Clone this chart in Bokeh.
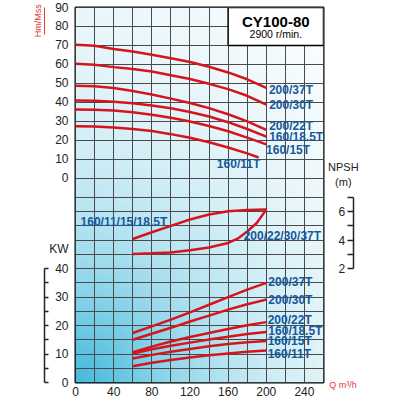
import numpy as np
from bokeh.plotting import figure
from bokeh.models import Range1d, LinearAxis, FixedTicker, Grid, Label, AllLabels, Arrow
from bokeh.core.properties import value
from bokeh.embed import file_html
from bokeh.resources import INLINE

# ---------------- data ----------------
# Head (H, m) vs flow Q (m3/h)
Q_H = [0, 20, 40, 60, 80, 100, 120, 140, 160, 180, 200]
H_200_37 = [70.4, 69.8, 68.2, 66.8, 65.1, 63.3, 61.3, 58.8, 55.8, 52.2, 47.7]
H_200_30 = [60.4, 59.9, 58.6, 57.6, 56.3, 54.3, 52.3, 49.8, 47.0, 43.5, 38.8]
H_200_22 = [48.8, 48.5, 47.6, 46.0, 44.2, 42.0, 39.7, 37.0, 33.8, 30.0, 25.6]
H_160_185 = [41.0, 40.9, 40.4, 39.6, 38.4, 36.9, 35.0, 32.6, 29.6, 26.0, 22.0]
H_160_15 = [36.3, 36.1, 35.7, 34.8, 33.5, 31.9, 30.0, 27.6, 24.8, 21.5, 17.9]
Q_H_11 = [0, 20, 40, 60, 80, 100, 120, 140, 160, 180, 192]
H_160_11 = [27.4, 27.3, 26.8, 26.0, 24.9, 23.3, 21.4, 19.0, 16.3, 13.2, 11.0]

# Power (KW) vs flow
Q_P = [60, 80, 100, 120, 140, 160, 180, 200]
P_200_37 = [17.4, 19.7, 22.1, 24.6, 27.3, 30.0, 32.6, 35.0]
P_200_30 = [15.0, 17.1, 19.2, 21.4, 23.5, 25.6, 27.5, 29.1]
P_200_22 = [10.6, 12.6, 14.4, 16.0, 17.4, 18.8, 20.1, 21.2]
P_160_185 = [10.2, 11.7, 12.9, 14.0, 15.1, 16.1, 17.0, 17.7]
P_160_15 = [8.4, 9.7, 10.8, 11.8, 12.7, 13.5, 14.1, 14.6]
P_160_11 = [5.7, 6.9, 7.9, 8.8, 9.6, 10.2, 10.8, 11.2]

# NPSH (m) vs flow
Q_N1 = [60, 80, 100, 120, 140, 160, 180, 200]
N_160 = [4.08, 4.55, 5.0, 5.45, 5.8, 6.02, 6.12, 6.14]
Q_N2 = [60, 80, 100, 120, 140, 160, 170, 180, 190, 200]
N_200 = [3.03, 3.07, 3.13, 3.28, 3.48, 3.8, 4.1, 4.6, 5.2, 6.14]

# curve labels
H_LABELS = ["200/37T", "200/30T", "200/22T", "160/18.5T", "160/15T", "160/11T"]
H_LABEL_X = [202.8, 203, 203, 203, 199.8, 148.2]
H_LABEL_Y = [46.7, 38.8, 27.4, 21.7, 14.7, 7.7]
P_LABELS = ["200/37T", "200/30T", "200/22T", "160/18.5T", "160/15T", "160/11T"]
P_LABEL_X = [202.2, 202.2, 201.5, 202.2, 201.5, 201.5]
P_LABEL_Y = [35.4, 29.0, 22.1, 18.2, 14.5, 10.0]
N_LABELS = ["160/11/15/18.5T", "200/22/30/37T"]
N_LABEL_X = [5.3, 176.3]
N_LABEL_Y = [5.25, 4.32]

# ticks
X_TICKS = [0, 40, 80, 120, 160, 200, 240]
X_GRID = list(range(20, 260, 20))
H_TICKS = [0, 10, 20, 30, 40, 50, 60, 70, 80, 90]
H_GRID = [-10, 0, 10, 20, 30, 40, 50, 60, 70, 80]
KW_TICKS = [0, 10, 20, 30, 40]
KW_ALL_TICKS = [0, 5, 10, 15, 20, 25, 30, 35, 40]
KW_GRID = [5, 10, 15, 20, 25, 30, 35, 40, 45, 50, 55, 60]
KW_TITLE_AT = 47             # KW level of the "KW" caption
NPSH_TICKS = [2, 4, 6]
NPSH_MINOR = [3, 5, 7]
H_TITLE_SPAN = (76, 90)      # head span of the "Hm/Mss" caption

# ---------------- scales ----------------
X_MAX = 260
H_TOP, H_BOTTOM = 90, -107.5
KW_PER_H = 1 / 1.5           # 5 KW per 7.5 m
KW_TOP = (H_TOP - H_BOTTOM) * KW_PER_H
NPSH_PER_KW = 1 / 5
NPSH_BOTTOM = -6
NPSH_TOP = NPSH_BOTTOM + KW_TOP * NPSH_PER_KW


def kw_to_h(k):
    return H_BOTTOM + k / KW_PER_H


FONT = "Liberation Sans"
RED = "#d7141d"
RED_TXT = "#e2393c"
BLUE = "#17589a"
INK = "#222222"
GRID_C = "#4a4a4a"

p = figure(width=400, height=400, x_range=Range1d(0, X_MAX),
           y_range=Range1d(H_BOTTOM, H_TOP), output_backend="svg",
           toolbar_location=None, y_axis_location=None,
           min_border_left=75, min_border_right=77, min_border_top=7,
           min_border_bottom=18, background_fill_color="white",
           border_fill_color="white")
p.extra_y_ranges = {"kw": Range1d(0, KW_TOP), "npsh": Range1d(NPSH_BOTTOM, NPSH_TOP)}
p.outline_line_color = "black"
p.outline_line_width = 2
p.ygrid.visible = False

# background gradient
nx, ny = 250, 375
U, V = np.meshgrid(np.linspace(0, 1, nx), np.linspace(0, 1, ny))
d = np.hypot(U * 248, V * 375)
w = 0.82 * np.exp(-(d / 160.0) ** 1.25) + 0.06 * (1 - U)
cyan = np.array([45, 178, 216])
img = np.empty((ny, nx), dtype=np.uint32)
view = img.view(dtype=np.uint8).reshape((ny, nx, 4))
for i in range(3):
    view[:, :, i] = np.clip(255 - (255 - cyan[i]) * w, 0, 255).astype(np.uint8)
view[:, :, 3] = 255
p.image_rgba(image=[img], x=0, y=H_BOTTOM, dw=X_MAX, dh=H_TOP - H_BOTTOM, level="image")

# grids
p.xgrid.ticker = FixedTicker(ticks=X_GRID)
p.xgrid.grid_line_color = GRID_C
p.xgrid.grid_line_width = 1
g1 = Grid(dimension=1, ticker=FixedTicker(ticks=H_GRID), grid_line_color=GRID_C, grid_line_width=1)
g2 = Grid(dimension=1, y_range_name="kw", ticker=FixedTicker(ticks=KW_GRID), grid_line_color=GRID_C, grid_line_width=1)
p.add_layout(g1, "center")
p.add_layout(g2, "center")

# x axis
xa = p.xaxis[0]
xa.ticker = FixedTicker(ticks=X_TICKS)
xa.axis_line_color = None
xa.major_tick_out = 0
xa.major_tick_in = 0
xa.minor_tick_line_color = None
xa.major_label_standoff = 4
xa.major_label_text_font = FONT
xa.major_label_text_font_size = "12px"
xa.major_label_text_color = INK


def spacer(width, side):
    ax = LinearAxis(ticker=FixedTicker(ticks=[H_BOTTOM]),
                    axis_line_color=None, major_tick_line_color=None,
                    minor_tick_line_color=None, major_tick_out=width, major_tick_in=0,
                    major_label_standoff=0, major_label_text_font_size="0px",
                    major_label_text_color=None)
    p.add_layout(ax, side)


# left scale labels: head (m) above, power (KW) below, plus "KW" caption
kw_pos = [kw_to_h(k) for k in KW_TICKS]
overrides = {float(pos): str(k) for pos, k in zip(kw_pos, KW_TICKS)}
overrides[float(kw_to_h(KW_TITLE_AT))] = "KW"
ax_lab = LinearAxis(ticker=FixedTicker(ticks=sorted(kw_pos + [float(h) for h in H_TICKS] + [kw_to_h(KW_TITLE_AT)])),
                    major_label_overrides=overrides, major_label_policy=AllLabels(),
                    axis_line_color=None, major_tick_line_color=None,
                    minor_tick_line_color=None, major_tick_out=0, major_tick_in=0,
                    major_label_standoff=7, major_label_text_font=FONT,
                    major_label_text_font_size="12px", major_label_text_color=INK)
p.add_layout(ax_lab, "left")
spacer(2, "left")
# KW scale line with inward ticks (no labels of its own)
ax_kw = LinearAxis(y_range_name="kw", bounds=(0, 40),
                   ticker=FixedTicker(ticks=[], minor_ticks=KW_ALL_TICKS),
                   axis_line_color=INK, axis_line_width=1.5,
                   minor_tick_line_color=INK, minor_tick_line_width=1.5,
                   major_tick_in=0, major_tick_out=0, minor_tick_in=4, minor_tick_out=0,
                   major_label_standoff=0)
p.add_layout(ax_kw, "left")
# "Hm/Mss" caption, underlined by its own (red) axis line
hm_mid = (H_TITLE_SPAN[0] + H_TITLE_SPAN[1]) / 2
ax_hm = LinearAxis(bounds=H_TITLE_SPAN, ticker=FixedTicker(ticks=[hm_mid]),
                   major_label_overrides={hm_mid: "Hm/Mss"},
                   major_label_orientation="parallel",
                   major_label_text_color=RED_TXT, major_label_text_font=FONT,
                   major_label_text_font_size="9px", major_label_standoff=1,
                   axis_line_color=RED_TXT, axis_line_width=1,
                   major_tick_out=0, major_tick_in=0, major_tick_line_color=None,
                   minor_tick_line_color=None)
p.add_layout(ax_hm, "left")

# right: NPSH scale (labels, gap, spine with inward ticks)
spacer(15, "right")
ax_nlab = LinearAxis(y_range_name="npsh", ticker=FixedTicker(ticks=NPSH_TICKS),
                     axis_line_color=None, major_tick_line_color=None,
                     minor_tick_line_color=None, major_tick_out=0, major_tick_in=0,
                     major_label_standoff=0, major_label_text_font=FONT,
                     major_label_text_font_size="12px", major_label_text_color=INK)
p.add_layout(ax_nlab, "right")
spacer(5, "right")
ax_n = LinearAxis(y_range_name="npsh", bounds=(2, 7),
                  ticker=FixedTicker(ticks=[], minor_ticks=NPSH_TICKS + NPSH_MINOR),
                  axis_line_color=INK, axis_line_width=1.5,
                  minor_tick_line_color=INK, minor_tick_line_width=1.5,
                  major_tick_in=0, major_tick_out=0, minor_tick_in=6, minor_tick_out=0,
                  major_label_standoff=0)
p.add_layout(ax_n, "right")

# title box
BOX_Q = (160, 260)
BOX_H = (70, 90)
p.quad(left=[BOX_Q[0]], right=[BOX_Q[1]], bottom=[BOX_H[0]], top=[BOX_H[1]],
       fill_color="white", line_color="black", line_width=1.5)
p.text(x=[210], y=[82.8], text=["CY100-80"], text_font=value(FONT), text_font_style="bold",
       text_font_size="15px", text_color="black", text_align="center", text_baseline="middle")
p.text(x=[210], y=[76.0], text=["2900 r/min."], text_font=value(FONT),
       text_font_size="10.5px", text_color="black", text_align="center", text_baseline="middle")

# curves
for ys, xs in [(H_200_37, Q_H), (H_200_30, Q_H), (H_200_22, Q_H), (H_160_185, Q_H), (H_160_15, Q_H), (H_160_11, Q_H_11)]:
    p.line(xs, ys, line_color=RED, line_width=2.5)
for ys in [P_200_37, P_200_30, P_200_22, P_160_185, P_160_15, P_160_11]:
    p.line(Q_P, ys, line_color=RED, line_width=2.5, y_range_name="kw")
p.line(Q_N1, N_160, line_color=RED, line_width=2.5, y_range_name="npsh")
p.line(Q_N2, N_200, line_color=RED, line_width=2.5, y_range_name="npsh")

lab_kw = dict(text_font=value(FONT), text_font_style="bold", text_font_size="12px",
              text_color=BLUE, text_align="left", text_baseline="middle")
p.text(x=H_LABEL_X, y=H_LABEL_Y, text=H_LABELS, **lab_kw)
p.text(x=P_LABEL_X, y=P_LABEL_Y, text=P_LABELS, y_range_name="kw", **lab_kw)
p.text(x=N_LABEL_X, y=N_LABEL_Y, text=N_LABELS, y_range_name="npsh", **lab_kw)

# captions outside the frame (held in side panels so they are not clipped)
p.add_layout(Label(x=280.8, y=5.8, text="NPSH", text_align="center",
                   text_baseline="middle", text_font=FONT, text_font_size="11px",
                   text_color=INK), "right")
p.add_layout(Label(x=280.8, y=-2.1, text="(m)", text_align="center",
                   text_baseline="middle", text_font=FONT, text_font_size="11px",
                   text_color=INK), "right")
p.add_layout(Label(x=266, y=-0.9, y_range_name="kw", text="Q m³/h", text_align="left",
                   text_baseline="alphabetic", text_font=FONT, text_font_size="9px",
                   text_color=RED_TXT), "left")
p.add_layout(Arrow(end=None, x_start=266, y_start=-1.5, x_end=293, y_end=-1.5,
                   y_range_name="kw", line_color=RED_TXT, line_width=1), "left")

open("out.html", "w").write(file_html(p, INLINE))
